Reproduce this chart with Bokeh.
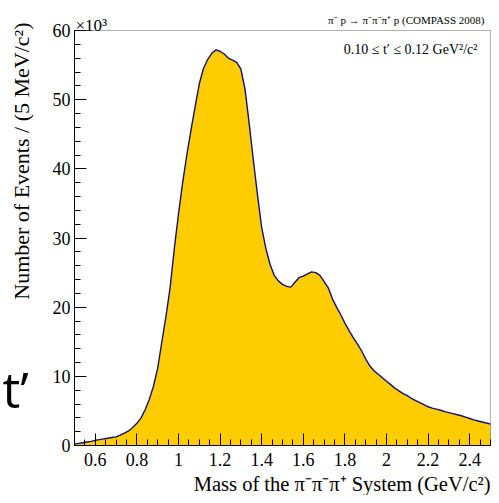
import numpy as np
from bokeh.plotting import figure
from bokeh.models import Label, FixedTicker, PrintfTickFormatter, BoxAnnotation, Range1d
from bokeh.embed import file_html
from bokeh.resources import INLINE

# Mass bins (GeV/c^2) and event counts (in units of 10^3)
mass = [0.50, 0.52, 0.54, 0.56, 0.58, 0.60, 0.62, 0.64, 0.66, 0.68,
        0.70, 0.72, 0.74, 0.76, 0.78, 0.80, 0.82, 0.84, 0.86, 0.88,
        0.90, 0.92, 0.94, 0.96, 0.98, 1.00, 1.02, 1.04, 1.06, 1.08,
        1.10, 1.12, 1.14, 1.16, 1.18, 1.20, 1.22, 1.24, 1.26, 1.28,
        1.30, 1.32, 1.34, 1.36, 1.38, 1.40, 1.42, 1.44, 1.46, 1.48,
        1.50, 1.52, 1.54, 1.56, 1.58, 1.60, 1.62, 1.64, 1.66, 1.68,
        1.70, 1.72, 1.74, 1.76, 1.78, 1.80, 1.82, 1.84, 1.86, 1.88,
        1.90, 1.92, 1.94, 1.96, 1.98, 2.00, 2.02, 2.04, 2.06, 2.08,
        2.10, 2.12, 2.14, 2.16, 2.18, 2.20, 2.22, 2.24, 2.26, 2.28,
        2.30, 2.32, 2.34, 2.36, 2.38, 2.40, 2.42, 2.44, 2.46, 2.48, 2.50]
events_k = [0.2, 0.3, 0.4, 0.5, 0.6, 0.75, 0.85, 0.95, 1.05, 1.15,
            1.25, 1.5, 1.8, 2.1, 2.6, 3.2, 4.0, 5.2, 6.7, 8.6,
            11.2, 15.0, 18.7, 22.9, 28.5, 33.5, 38.0, 42.0, 45.6, 49.0,
            52.3, 54.5, 55.8, 56.7, 57.2, 57.0, 56.6, 56.0, 55.7, 55.4,
            54.4, 51.5, 46.5, 41.2, 36.2, 31.5, 28.5, 26.2, 24.6, 23.8,
            23.3, 23.0, 22.9, 23.6, 24.3, 24.5, 24.8, 25.1, 25.0, 24.6,
            23.7, 22.8, 21.2, 20.0, 18.9, 17.7, 16.6, 15.6, 14.7, 13.7,
            12.5, 11.5, 10.8, 10.3, 9.8, 9.3, 8.8, 8.3, 7.9, 7.5,
            7.2, 6.8, 6.5, 6.2, 5.9, 5.6, 5.4, 5.25, 5.1, 4.9,
            4.75, 4.6, 4.45, 4.3, 4.1, 3.9, 3.7, 3.55, 3.4, 3.25, 3.1]

x_lo, x_hi = 0.5, 2.5
y_lo, y_hi = 0, 60
x_ticks = [0.6, 0.8, 1.0, 1.2, 1.4, 1.6, 1.8, 2.0, 2.2, 2.4]
x_minor = [round(0.5 + 0.05 * i, 2) for i in range(41)]
y_ticks = [0, 10, 20, 30, 40, 50, 60]
y_minor = list(range(0, 61, 2))

SERIF = "Liberation Serif"

# canvas geometry (pixels): the whole canvas is the plotting frame
W, H = 491, 495
BX0, BX1 = 74, 490   # left / right edge of the drawn box
BY0, BY1 = 30, 445   # top / bottom edge of the drawn box
kx = (BX1 - BX0) / (x_hi - x_lo)
ky = (BY1 - BY0) / (y_hi - y_lo)
xr = Range1d(x_lo - BX0 / kx, x_lo + W / kx - BX0 / kx)
yr = Range1d(y_lo - (H - BY1) / ky, y_lo + BY1 / ky)

p = figure(width=W, height=H, x_range=xr, y_range=yr,
           output_backend="svg", toolbar_location=None,
           min_border_left=0, min_border_right=0, min_border_top=0,
           min_border_bottom=0)
p.xgrid.visible = False
p.ygrid.visible = False
p.outline_line_color = None
p.background_fill_color = "white"
p.border_fill_color = "white"

p.varea(x=mass, y1=[0] * len(mass), y2=events_k, fill_color="#ffcc00", fill_alpha=1.0)
p.line(x=mass, y=events_k, line_color="#10107a", line_width=1.4)

p.add_layout(BoxAnnotation(left=x_lo, right=x_hi, bottom=y_lo, top=y_hi,
                           fill_alpha=0, line_color="black", line_width=1))

xa, ya = p.xaxis[0], p.yaxis[0]
xa.fixed_location = y_lo
ya.fixed_location = x_lo
xa.bounds = (x_lo, x_hi)
ya.bounds = (y_lo, y_hi)
for ax, ticks, minor in ((xa, x_ticks, x_minor), (ya, y_ticks, y_minor)):
    ax.ticker = FixedTicker(ticks=ticks, minor_ticks=minor)
    ax.formatter = PrintfTickFormatter(format="%g")
    ax.major_tick_in = 12
    ax.major_tick_out = 0
    ax.minor_tick_in = 6
    ax.minor_tick_out = 0
    ax.major_tick_line_color = "black"
    ax.minor_tick_line_color = "black"
    ax.axis_line_color = "black"
    ax.major_label_text_font = SERIF
    ax.major_label_text_font_size = "18px"
    ax.major_label_text_color = "black"
xa.major_label_standoff = 7
ya.major_label_standoff = 4


def lab(px, py, text, size, align="left", font=SERIF, angle=0):
    # (px, py): anchor in canvas pixels from the top-left corner, vertically centred
    p.add_layout(Label(x=px, y=H - py, x_units="screen", y_units="screen",
                       text=text, text_font=font, text_font_size=size,
                       text_align=align, text_baseline="middle", angle=angle,
                       text_color="black"))


lab(BX1, 483, "Mass of the π⁻π⁻π⁺ System (GeV/c²)", "20.5px", align="right")
lab(21, BY0 - 8, "Number of Events / (5 MeV/c²)", "22px", align="right",
    angle=np.pi / 2)
lab(BX0 + 1, 25, "×10³", "17px")
lab(BX1 - 6, 19.5, "π⁻ p → π⁻π⁻π⁺ p (COMPASS 2008)", "11px", align="right")
lab(BX1 - 13, 48.5, "0.10 ≤ t′ ≤ 0.12 GeV²/c²", "14px", align="right")
lab(2, 388, "t’", "50px", font="Open Sans")

open("out.html", "w").write(file_html(p, INLINE))
